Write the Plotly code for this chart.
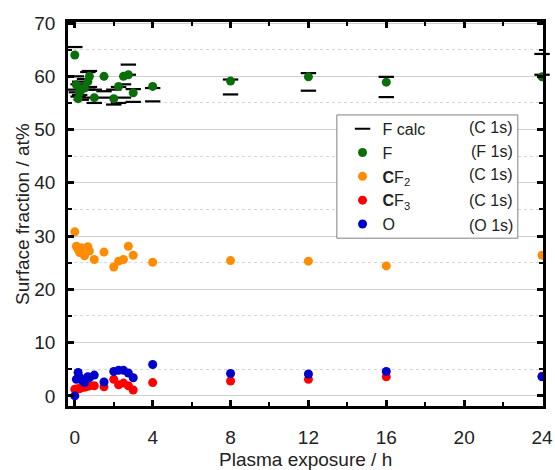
import plotly.graph_objects as go

# exposure times (h)
times = [0, 0.08, 0.17, 0.25, 0.33, 0.5, 0.67, 0.75, 1.0, 1.5,
         2.0, 2.25, 2.5, 2.75, 3.0, 4, 8, 12, 16, 24]

f_calc_a = [65.5, 60.0, 58.5, 59.0, 58.0, 59.5, 60.8, 61.0, 57.5, 57.2,
            57.5, 58.0, 58.5, 62.2, 57.6, 57.8, 59.4, 60.6, 59.9, 64.2]
f_calc_b = [57.5, 57.0, 56.2, 56.5, 55.6, 56.0, 57.5, 58.0, 55.0, 56.0,
            54.7, 55.0, 56.0, 60.3, 55.2, 55.3, 56.6, 57.3, 56.1, 60.3]
f_vals = [64.0, 58.4, 55.8, 57.0, 57.5, 57.8, 59.0, 60.0, 56.0, 60.0,
          55.8, 58.1, 60.0, 60.3, 56.9, 58.1, 59.1, 59.9, 58.9, 59.9]
cf2_vals = [30.8, 28.1, 27.5, 26.9, 27.8, 26.3, 28.0, 27.2, 25.6, 27.0,
            24.2, 25.3, 25.6, 28.1, 26.4, 25.1, 25.4, 25.3, 24.4, 26.4]
cf3_vals = [1.25, 1.3, 1.3, 1.4, 1.5, 1.6, 1.8, 1.9, 1.9, 1.7,
            3.1, 2.1, 2.4, 1.9, 1.1, 2.5, 2.8, 3.1, 3.6, 3.7]
o_vals = [0.0, 3.1, 4.4, 3.5, 3.0, 2.5, 3.6, 3.4, 3.9, 2.6,
          4.6, 4.8, 4.8, 4.3, 3.4, 5.9, 4.2, 4.1, 4.6, 3.6]

names = ["F calc", "F", "<b>C</b>F<sub>2</sub>", "<b>C</b>F<sub>3</sub>", "O"]
regions = ["(C 1s)", "(F 1s)", "(C 1s)", "(C 1s)", "(O 1s)"]
colors = ["#000000", "#0a6e0a", "#ff8c00", "#ff0000", "#0000cc"]

x_ticks = [0, 4, 8, 12, 16, 20, 24]
y_ticks = [0, 10, 20, 30, 40, 50, 60, 70]

FONT = "Liberation Sans, Arial, sans-serif"

fig = go.Figure()
fig.add_trace(go.Scatter(
    x=times + times, y=f_calc_a + f_calc_b, mode="markers", name=names[0],
    marker=dict(symbol="line-ew", size=11, line=dict(width=2.2, color=colors[0])),
    cliponaxis=False))
series = [f_vals, cf2_vals, cf3_vals, o_vals]
for i, vals in enumerate(series, start=1):
    fig.add_trace(go.Scatter(
        x=times, y=vals, mode="markers", name=names[i],
        marker=dict(symbol="circle", size=9, color=colors[i], line=dict(width=0)),
        cliponaxis=True))

# legend box
L0, L1 = 0.566, 0.947
T0, T1 = 0.758, 0.437
fig.add_shape(type="rect", xref="paper", yref="paper", x0=L0, x1=L1, y0=T1, y1=T0,
              line=dict(color="#808080", width=1), fillcolor="white", layer="above")

row_y = [0.724, 0.664, 0.602, 0.535, 0.469]
for r, ry in zip(regions, row_y):
    fig.add_annotation(text=r, xref="paper", yref="paper", x=0.94, y=ry,
                       xanchor="right", yanchor="middle", showarrow=False,
                       font=dict(family=FONT, size=16, color="#222"))

# axis titles
fig.add_annotation(text="Plasma exposure / h", xref="paper", yref="paper",
                   x=0.5, y=-0.139, xanchor="center", yanchor="middle",
                   showarrow=False, font=dict(family=FONT, size=19, color="#222"))
fig.add_annotation(text="Surface fraction / at%", xref="paper", yref="paper",
                   x=-0.097, y=0.5, xanchor="center", yanchor="middle", textangle=-90,
                   showarrow=False, font=dict(family=FONT, size=19, color="#222"))

fig.update_layout(
    width=555, height=470,
    margin=dict(l=68, r=12, t=22, b=64),
    plot_bgcolor="white", paper_bgcolor="white",
    font=dict(family=FONT, size=18, color="#222"),
    legend=dict(x=L0 + 0.012, y=T0 + 0.008, xanchor="left", yanchor="top",
                bgcolor="rgba(0,0,0,0)", borderwidth=0,
                font=dict(family=FONT, size=16, color="#222"),
                tracegroupgap=0, itemwidth=30),
    xaxis=dict(range=[-0.35, 24.05], tickvals=x_ticks, ticktext=[str(v) for v in x_ticks],
               showgrid=False, zeroline=False, automargin=False,
               showline=True, linewidth=2.5, linecolor="black", mirror="allticks",
               ticks="inside", ticklen=6, tickwidth=2.5, tickcolor="black",
               minor=dict(ticks="inside", ticklen=4, tickwidth=2, tickcolor="black",
                          dtick=2, tick0=0, showgrid=False),
               tickfont=dict(size=19), ticklabelstandoff=12),
    yaxis=dict(range=[-1.9, 70.2], tickvals=y_ticks, ticktext=[str(v) for v in y_ticks],
               showgrid=True, gridcolor="#cfcfcf", gridwidth=1, zeroline=False,
               automargin=False,
               showline=True, linewidth=2.5, linecolor="black", mirror="allticks",
               ticks="inside", ticklen=6, tickwidth=2.5, tickcolor="black",
               minor=dict(ticks="inside", ticklen=4, tickwidth=2, tickcolor="black",
                          dtick=5, tick0=0, showgrid=True, gridcolor="#d8d8d8",
                          griddash="dot", gridwidth=1),
               tickfont=dict(size=19), ticklabelstandoff=6),
)

fig.write_html("out.html")
